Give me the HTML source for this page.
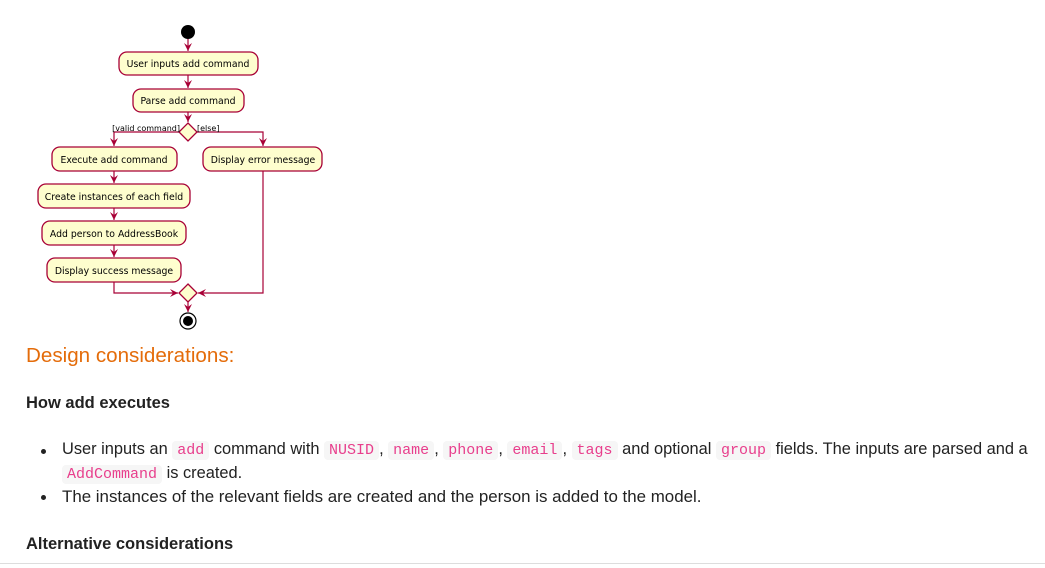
<!DOCTYPE html>
<html><head><meta charset="utf-8"><style>
body{margin:0;width:1045px;height:568px;background:#fff;position:relative;overflow:hidden;font-family:"Liberation Sans",sans-serif;color:#222;}
.t{position:absolute;white-space:nowrap;}
code{font-family:"Liberation Mono",monospace;color:#e83e8c;background:#f6f6f6;border-radius:4px;padding:1px 5px;font-size:15px;}
.b{position:absolute;width:5px;height:5px;border-radius:50%;background:#222;}
</style></head><body>
<svg width="1045" height="340" style="position:absolute;left:0;top:0" font-family="DejaVu Sans, sans-serif">
<defs><marker id="a" markerWidth="10" markerHeight="10" refX="8" refY="5" orient="auto" markerUnits="userSpaceOnUse"><path d="M0,1 L8,5 L0,9 L3,5 Z" fill="#A80036"/></marker></defs>
<g stroke="#A80036" stroke-width="1.2" fill="none">
<line x1="188" y1="39" x2="188" y2="51" marker-end="url(#a)"/>
<line x1="188" y1="75" x2="188" y2="88" marker-end="url(#a)"/>
<line x1="188" y1="112" x2="188" y2="122" marker-end="url(#a)"/>
<polyline points="179,132 114,132 114,146" marker-end="url(#a)"/>
<polyline points="197,132 263,132 263,146" marker-end="url(#a)"/>
<line x1="114" y1="171" x2="114" y2="183" marker-end="url(#a)"/>
<line x1="114" y1="208" x2="114" y2="220" marker-end="url(#a)"/>
<line x1="114" y1="245" x2="114" y2="257" marker-end="url(#a)"/>
<polyline points="114,282 114,293 178,293" marker-end="url(#a)"/>
<polyline points="263,171 263,293 198,293" marker-end="url(#a)"/>
<line x1="188" y1="302" x2="188" y2="312" marker-end="url(#a)"/>
</g>
<g fill="#FEFECE" stroke="#A80036" stroke-width="1.3">
<rect x="119" y="52" width="139" height="23" rx="8"/>
<rect x="133" y="89" width="111" height="23" rx="8"/>
<rect x="52" y="147" width="125" height="24" rx="8"/>
<rect x="203" y="147" width="119" height="24" rx="8"/>
<rect x="38" y="184" width="152" height="24" rx="8"/>
<rect x="42" y="221" width="144" height="24" rx="8"/>
<rect x="47" y="258" width="134" height="24" rx="8"/>
<polygon points="188,123 197,132 188,141 179,132"/>
<polygon points="188,284 197,293 188,302 179,293"/>
</g>
<circle cx="188" cy="32" r="7" fill="#000"/>
<circle cx="188" cy="321" r="8" fill="none" stroke="#000" stroke-width="1.2"/>
<circle cx="188" cy="321" r="5" fill="#000"/>
<g font-size="9.3" fill="#000" text-anchor="middle">
<text x="188" y="67">User inputs add command</text>
<text x="188" y="104">Parse add command</text>
<text x="114" y="163">Execute add command</text>
<text x="263" y="163">Display error message</text>
<text x="114" y="200">Create instances of each field</text>
<text x="114" y="237">Add person to AddressBook</text>
<text x="114" y="274">Display success message</text>
</g>
<g font-size="8" fill="#000">
<text x="180" y="131" text-anchor="end">[valid command]</text>
<text x="197" y="131">[else]</text>
</g>
</svg>
<div class="t" style="left:26px;top:344px;font-size:20.6px;color:#e46c0a;">Design considerations:</div>
<div class="t" style="left:26px;top:394px;font-size:16.5px;font-weight:bold;">How add executes</div>
<div class="b" style="left:41px;top:449px"></div>
<div class="t" style="left:62px;top:440px;font-size:16.4px;">User inputs an <code>add</code> command with <code>NUSID</code>, <code>name</code>, <code>phone</code>, <code>email</code>, <code>tags</code> and optional <code>group</code> fields. The inputs are parsed and a</div>
<div class="t" style="left:62px;top:464px;font-size:16.4px;"><code>AddCommand</code> is created.</div>
<div class="b" style="left:41px;top:495px"></div>
<div class="t" style="left:62px;top:487px;font-size:16.9px;">The instances of the relevant fields are created and the person is added to the model.</div>
<div class="t" style="left:26px;top:535px;font-size:16.5px;font-weight:bold;">Alternative considerations</div>
<div style="position:absolute;left:0;top:563px;width:1045px;height:1px;background:#ddd"></div>
</body></html>
